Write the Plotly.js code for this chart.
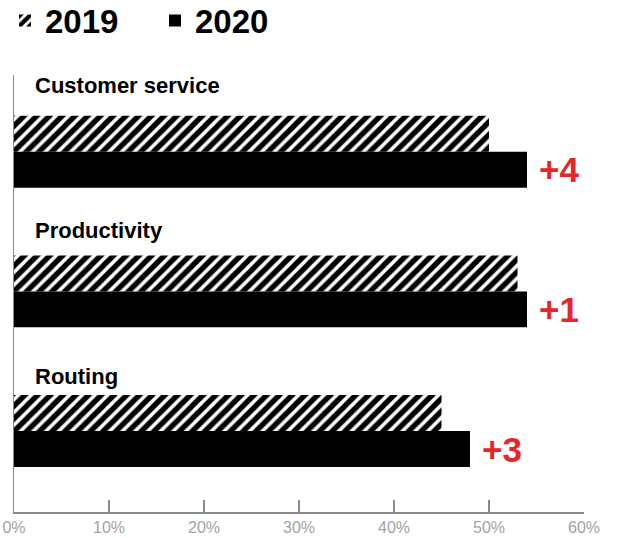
<!DOCTYPE html>
<html>
<head>
<meta charset="utf-8">
<script src="https://cdn.plot.ly/plotly-3.0.1.min.js"></script>
<style>html,body{margin:0;padding:0;background:#fff;}#chart{width:624px;height:538px;}</style>
</head>
<body>
<div id="chart"></div>
<script>
const categories = ["Customer service", "Productivity", "Routing"];
const values2019 = [50, 53, 45];
const values2020 = [54, 54, 48];
const changeLabels = ["+4", "+1", "+3"];
const tickValues = [0, 10, 20, 30, 40, 50, 60];
const tickLabels = ["0%", "10%", "20%", "30%", "40%", "50%", "60%"];

const trace2019 = {
  type: "bar", orientation: "h", name: "2019",
  y: categories, x: values2019,
  marker: {color: "#ffffff", line: {width: 0},
    pattern: {shape: "/", fgcolor: "#000000", bgcolor: "#ffffff", fgopacity: 1, size: 9, solidity: 0.6, fillmode: "replace"}},
  hoverinfo: "skip"
};
const trace2020 = {
  type: "bar", orientation: "h", name: "2020",
  y: categories, x: values2020,
  marker: {color: "#000000", line: {width: 0}},
  hoverinfo: "skip"
};

const labelShift = [66, 61, 55];
const annotations = [];
categories.forEach((c, i) => {
  annotations.push({
    x: 0, y: c, xref: "x", yref: "y", xanchor: "left", yanchor: "middle",
    xshift: 19, yshift: labelShift[i], showarrow: false, text: c,
    font: {family: "Liberation Sans, Arial, sans-serif", size: 22, color: "#000", weight: "bold"}
  });
  annotations.push({
    x: values2020[i], y: c, xref: "x", yref: "y", xanchor: "left", yanchor: "middle",
    xshift: 10, yshift: -18, showarrow: false, text: changeLabels[i],
    font: {family: "Liberation Sans, Arial, sans-serif", size: 35, color: "#e7262b", weight: "bold"}
  });
});

const layout = {
  width: 624, height: 538,
  margin: {l: 14, r: 40, t: 75, b: 26},
  paper_bgcolor: "#ffffff", plot_bgcolor: "#ffffff",
  barmode: "group", bargap: 0.485, bargroupgap: 0,
  showlegend: true,
  legend: {orientation: "h", xref: "container", yref: "container",
    x: 0.008, xanchor: "left", y: 0.962, yanchor: "middle",
    font: {family: "Liberation Sans, Arial, sans-serif", size: 33, color: "#000", weight: "bold"},
    itemwidth: 30, entrywidth: 105, entrywidthmode: "pixels", traceorder: "normal"},
  xaxis: {range: [0, 60], tickvals: tickValues, ticktext: tickLabels,
    showgrid: false, zeroline: false, showline: true, linecolor: "#8a8a8a", linewidth: 1.5,
    ticks: "inside", ticklen: 12, tickcolor: "#8a8a8a", tickwidth: 1.5,
    tickfont: {family: "Liberation Sans Narrow, Arial Narrow, sans-serif", size: 16, color: "#a3a3a3"},
    fixedrange: true},
  yaxis: {type: "category", range: [2.58, -0.55], showticklabels: false,
    showgrid: false, zeroline: false, showline: true, linecolor: "#8a8a8a", linewidth: 1.5,
    ticks: "", fixedrange: true},
  annotations: annotations
};

Plotly.newPlot("chart", [trace2019, trace2020], layout, {displayModeBar: false, staticPlot: true});
</script>
</body>
</html>
